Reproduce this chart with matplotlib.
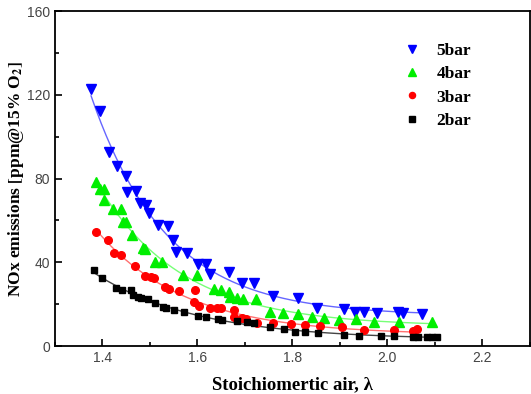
import numpy as np
import matplotlib
matplotlib.use('Agg')
import matplotlib.pyplot as plt
from matplotlib.ticker import MultipleLocator

# data (lambda, NOx ppm)
x_5bar = [1.376, 1.394, 1.413, 1.431, 1.450, 1.451, 1.471, 1.478, 1.491, 1.498, 1.518,
          1.539, 1.548, 1.555, 1.577, 1.601, 1.619, 1.626, 1.667, 1.693, 1.720, 1.759,
          1.811, 1.851, 1.908, 1.932, 1.951, 1.979, 2.023, 2.034, 2.074]
y_5bar = [122.6, 112.4, 92.8, 86.0, 81.2, 73.7, 74.2, 68.1, 67.5, 63.7, 57.8,
          57.3, 50.6, 45.0, 44.6, 39.2, 39.0, 34.2, 35.2, 29.9, 30.2, 23.9,
          23.1, 18.3, 17.8, 16.4, 16.4, 15.9, 16.2, 15.6, 15.1]

x_4bar = [1.387, 1.394, 1.404, 1.404, 1.423, 1.439, 1.443, 1.450, 1.462, 1.485, 1.490,
          1.510, 1.525, 1.569, 1.600, 1.635, 1.649, 1.667, 1.669, 1.683, 1.697, 1.723,
          1.752, 1.780, 1.811, 1.841, 1.866, 1.898, 1.934, 1.971, 2.025, 2.095]
y_4bar = [78.5, 74.8, 74.8, 69.7, 65.3, 65.3, 59.4, 59.4, 53.0, 46.7, 46.2,
          40.0, 40.0, 33.9, 33.9, 27.2, 26.7, 25.6, 23.5, 23.1, 22.3, 22.3,
          16.4, 15.6, 15.1, 14.0, 13.2, 12.5, 12.7, 11.6, 11.6, 11.3]

x_3bar = [1.387, 1.411, 1.425, 1.438, 1.469, 1.490, 1.502, 1.509, 1.532, 1.541, 1.562,
          1.595, 1.593, 1.604, 1.626, 1.642, 1.649, 1.676, 1.677, 1.694, 1.702, 1.726,
          1.759, 1.797, 1.826, 1.859, 1.904, 1.950, 2.015, 2.055, 2.063]
y_3bar = [54.6, 50.6, 44.3, 43.5, 38.2, 33.4, 33.1, 32.3, 28.0, 27.1, 26.3,
          26.7, 20.9, 19.2, 18.3, 18.0, 18.0, 17.2, 14.0, 13.5, 12.9, 11.1,
          10.8, 10.5, 10.0, 9.6, 9.0, 7.6, 7.6, 7.2, 8.1]

x_2bar = [1.382, 1.399, 1.429, 1.441, 1.461, 1.464, 1.474, 1.482, 1.495, 1.511, 1.528,
          1.534, 1.551, 1.571, 1.602, 1.619, 1.643, 1.652, 1.684, 1.705, 1.719, 1.752,
          1.782, 1.806, 1.827, 1.855, 1.908, 1.941, 1.987, 2.015, 2.055, 2.064, 2.084,
          2.095, 2.104]
y_2bar = [36.3, 32.3, 27.9, 26.7, 26.7, 24.4, 23.5, 23.1, 22.4, 20.4, 18.8,
          18.0, 17.2, 16.1, 14.3, 13.7, 12.7, 12.4, 12.1, 11.3, 11.1, 9.2,
          8.0, 6.8, 6.5, 6.1, 5.3, 4.9, 4.8, 4.8, 4.4, 4.2, 4.2,
          4.4, 4.2]

series = [
    ('5bar', x_5bar, y_5bar, 'v', 7, '#0000ff', '#6666ff'),
    ('4bar', x_4bar, y_4bar, '^', 7, '#00ee00', '#77ff77'),
    ('3bar', x_3bar, y_3bar, 'o', 5.5, '#ff0000', '#ff7070'),
    ('2bar', x_2bar, y_2bar, 's', 5, '#000000', '#444444'),
]


def exp_fit(x, y):
    # y = y0 + A*exp(-x/t), scan t and solve linear part
    x = np.asarray(x)
    y = np.asarray(y)
    best = None
    for t in np.linspace(0.05, 1.0, 400):
        M = np.column_stack([np.ones_like(x), np.exp(-x / t)])
        coef, *_ = np.linalg.lstsq(M, y, rcond=None)
        err = np.sum((M @ coef - y) ** 2)
        if best is None or err < best[0]:
            best = (err, t, coef)
    _, t, coef = best
    return lambda xx: coef[0] + coef[1] * np.exp(-xx / t)


plt.rcParams['mathtext.fontset'] = 'stix'

fig = plt.figure(figsize=(5.31, 3.94), dpi=100)
ax = fig.add_axes([0.1036, 0.1218, 0.894, 0.850])

for name, xs, ys, mk, ms, c, lc in series:
    f = exp_fit(xs, ys)
    xx = np.linspace(min(xs), max(xs) + 0.005, 200)
    ax.plot(xx, f(xx), color=lc, lw=1.0, zorder=1)
    ax.plot(xs, ys, ls='none', marker=mk, ms=ms, color=c, mec=c, label=name, zorder=2)

ax.set_xlim(1.3, 2.3)
ax.set_ylim(0, 160)
ax.xaxis.set_major_locator(MultipleLocator(0.2))
ax.xaxis.set_minor_locator(MultipleLocator(0.1))
ax.yaxis.set_major_locator(MultipleLocator(40))
ax.yaxis.set_minor_locator(MultipleLocator(20))
ax.set_xticks([1.4, 1.6, 1.8, 2.0, 2.2])
ax.set_xticklabels(['1.4', '1.6', '1.8', '2.0', '2.2'])

ax.tick_params(which='both', direction='in', width=1.2, labelsize=10,
               labelcolor='#444444', top=False, right=False)
ax.tick_params(which='major', length=5)
ax.tick_params(which='minor', length=3)
for lab in ax.get_xticklabels() + ax.get_yticklabels():
    lab.set_family('Liberation Sans')
for sp in ax.spines.values():
    sp.set_linewidth(1.3)

ax.set_xlabel('Stoichiomertic air, λ', family='Liberation Serif', weight='bold',
              fontsize=13.5, labelpad=8)
ax.set_ylabel(r'NOx emissions $\mathbf{[}$ppm@15% O$_\mathbf{2}\mathbf{]}$',
              family='Liberation Serif', weight='bold', fontsize=12.5, labelpad=1)

leg = ax.legend(loc='upper left', bbox_to_anchor=(0.683, 0.953), frameon=False,
                prop={'family': 'Liberation Serif', 'weight': 'bold', 'size': 12.5},
                handletextpad=0.4, labelspacing=0.42, markerscale=0.8)

fig.savefig('out.png', dpi=100)
